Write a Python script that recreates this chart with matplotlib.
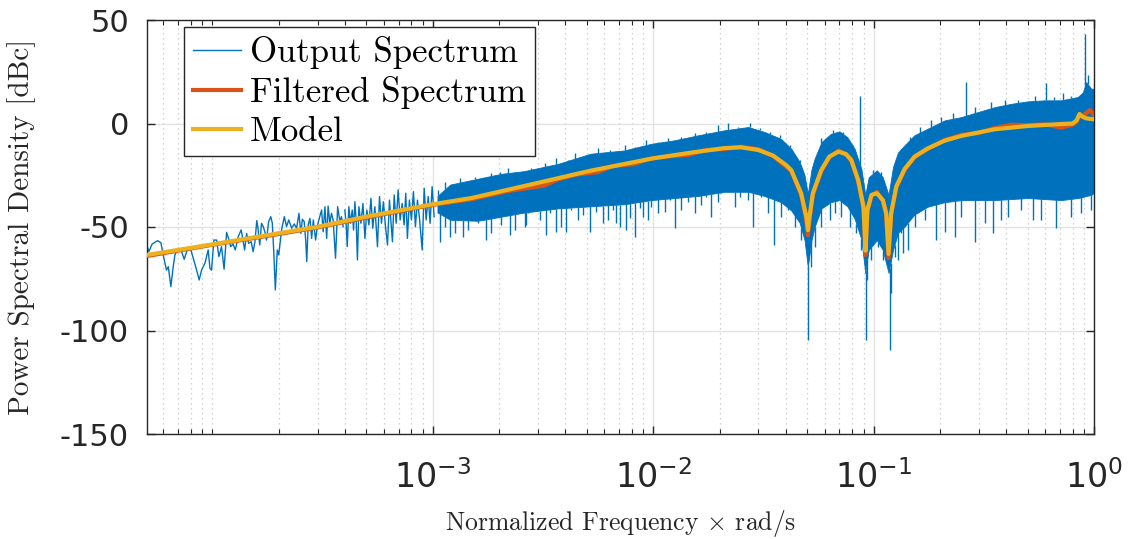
import numpy as np
import matplotlib.pyplot as plt
from matplotlib.lines import Line2D
from matplotlib.ticker import LogLocator, NullFormatter

# Colores por defecto de MATLAB
c_azul = '#0072BD'
c_rojo = '#D95319'
c_amarillo = '#EDB120'

# Espectro de salida: tramo disperso en baja frecuencia
low_f = [5.05e-5, 5.15e-5, 5.33e-5, 5.64e-5, 5.84e-5, 5.98e-5, 6.19e-5, 6.31e-5, 6.48e-5, 6.64e-5,
         6.76e-5, 7.00e-5, 7.19e-5, 7.45e-5, 7.64e-5, 7.91e-5, 8.19e-5, 8.48e-5, 8.71e-5, 8.93e-5,
         9.25e-5, 9.57e-5, 9.75e-5, 9.91e-5, 1.016e-4, 1.045e-4, 1.07e-4, 1.10e-4, 1.13e-4, 1.16e-4,
         1.19e-4, 1.21e-4, 1.24e-4, 1.27e-4, 1.31e-4, 1.35e-4, 1.36e-4, 1.40e-4, 1.43e-4, 1.46e-4,
         1.50e-4, 1.53e-4, 1.56e-4, 1.59e-4, 1.61e-4, 1.64e-4, 1.67e-4, 1.70e-4, 1.73e-4, 1.76e-4,
         1.80e-4, 1.84e-4, 1.87e-4, 1.90e-4, 1.93e-4, 1.97e-4, 2.00e-4, 2.06e-4, 2.12e-4, 2.17e-4,
         2.22e-4, 2.29e-4, 2.35e-4, 2.41e-4, 2.47e-4, 2.52e-4, 2.56e-4, 2.61e-4, 2.65e-4, 2.68e-4,
         2.72e-4, 2.77e-4, 2.82e-4, 2.87e-4, 2.94e-4, 3.00e-4, 3.07e-4, 3.13e-4, 3.18e-4, 3.24e-4,
         3.30e-4, 3.35e-4, 3.41e-4, 3.47e-4, 3.53e-4, 3.62e-4, 3.70e-4, 3.79e-4, 3.85e-4, 3.92e-4]
low_db = [-59.2, -61.9, -58.2, -56.6, -57.6, -63.5, -70.8, -69.2, -78.8, -69.2,
          -63.5, -60.3, -60.8, -65.6, -61.9, -59.5, -65.1, -70.8, -75.6, -70.8,
          -67.5, -61.1, -70.0, -70.8, -56.3, -56.3, -64.3, -59.5, -70.4, -52.6,
          -56.3, -59.5, -58.2, -61.1, -54.7, -51.4, -53.1, -61.1, -53.1, -57.9,
          -57.1, -61.9, -57.1, -46.9, -50.6, -58.7, -48.2, -49.8, -52.3, -56.3,
          -47.4, -45.0, -48.2, -62.7, -80.4, -61.1, -63.5, -51.4, -45.0, -49.8,
          -46.6, -50.6, -48.5, -50.6, -43.4, -53.1, -46.3, -47.4, -56.3, -66.7,
          -49.0, -45.8, -55.5, -46.6, -56.3, -49.0, -45.0, -41.8, -52.3, -40.2,
          -55.5, -39.9, -48.2, -43.4, -46.6, -65.1, -40.2, -47.4, -45.0, -49.8]

# Tramo intermedio (ya más denso)
mid_f = [3.99e-4, 4.05e-4, 4.09e-4, 4.16e-4, 4.23e-4, 4.31e-4, 4.37e-4, 4.43e-4, 4.49e-4, 4.55e-4,
         4.62e-4, 4.72e-4, 4.82e-4, 4.92e-4, 5.02e-4, 5.13e-4, 5.24e-4, 5.34e-4, 5.46e-4, 5.61e-4,
         5.73e-4, 5.85e-4, 5.97e-4, 6.10e-4, 6.23e-4, 6.36e-4, 6.45e-4, 6.56e-4, 6.68e-4, 6.82e-4,
         6.96e-4, 7.11e-4, 7.26e-4, 7.41e-4, 7.54e-4, 7.67e-4, 7.83e-4, 8.00e-4, 8.17e-4, 8.34e-4,
         8.52e-4, 8.70e-4, 8.95e-4, 9.14e-4, 9.33e-4, 9.53e-4, 9.72e-4, 9.93e-4, 1.014e-3]
mid_db = [-41.8, -49.8, -59.5, -40.2, -48.2, -41.8, -51.5, -37.8, -46.6, -65.9,
          -40.2, -48.2, -38.6, -55.5, -41.8, -49.0, -36.2, -50.6, -40.2, -59.5,
          -35.3, -48.2, -37.8, -49.8, -58.7, -37.0, -46.6, -57.1, -34.5, -48.2,
          -32.1, -46.6, -38.6, -49.0, -33.7, -55.5, -37.0, -46.6, -32.9, -49.8,
          -37.0, -45.8, -61.1, -31.3, -46.6, -35.3, -48.2, -30.5, -45.0]

# Zona densa: núcleo sólido del espectro
band_f = [1.05e-3, 1.2e-3, 1.6e-3, 2.05e-3, 2.6e-3, 3.7e-3, 5.2e-3, 7.4e-3, 9.8e-3, 1.25e-2,
          1.6e-2, 2.1e-2, 2.7e-2, 3.2e-2, 3.8e-2, 4.23e-2, 4.62e-2, 4.86e-2, 5.03e-2, 5.23e-2,
          5.4e-2, 5.8e-2, 6.4e-2, 7.0e-2, 7.6e-2, 8.2e-2, 8.8e-2, 9.17e-2, 9.5e-2, 0.1035,
          0.110, 0.1169, 0.1225, 0.129, 0.138, 0.153, 0.176, 0.21, 0.25, 0.297,
          0.354, 0.421, 0.501, 0.596, 0.71, 0.844, 0.89, 0.922, 0.971, 1.0]
band_hi = [-35.0, -29.5, -26.7, -24.3, -23.0, -19.5, -14.6, -13.0, -9.8, -8.1,
           -5.7, -3.3, -1.7, -4.1, -7.4, -12.2, -18.6, -24.9, -34.0, -22.0,
           -17.0, -9.0, -5.0, -3.8, -6.6, -12.2, -21.9, -34.5, -26.0, -22.6,
           -25.9, -34.5, -21.0, -14.0, -10.6, -5.7, -2.5, 1.5, 3.1, 5.5,
           7.9, 9.5, 10.7, 11.2, 11.2, 12.8, 15.0, 20.0, 16.8, 16.8]
band_lo = [-43.0, -46.5, -47.0, -45.0, -43.0, -41.0, -40.0, -39.0, -37.0, -36.0,
           -35.0, -33.0, -33.0, -35.0, -38.0, -42.0, -48.0, -56.3, -69.2, -56.3,
           -49.9, -41.0, -38.0, -37.0, -40.0, -46.0, -56.0, -72.2, -61.1, -56.3,
           -61.1, -72.2, -61.1, -52.9, -49.9, -44.0, -40.2, -38.0, -37.0, -37.0,
           -37.0, -36.5, -36.0, -36.5, -37.0, -36.0, -35.5, -35.0, -34.5, -33.5]

# Picos hacia abajo que salen del núcleo
down_f = [1.075e-3, 1.194e-3, 1.372e-3, 1.751e-3, 2.234e-3, 2.614e-3, 3.278e-3, 3.639e-3, 4.040e-3, 5.152e-3,
          5.92e-3, 7.05e-3, 7.56e-3, 8.24e-3, 8.99e-3, 1.051e-2, 1.252e-2, 1.543e-2, 1.836e-2, 2.343e-2,
          2.826e-2, 3.530e-2, 5.035e-2, 5.22e-2, 9.20e-2, 9.36e-2, 0.1182, 0.1194, 0.1289, 0.1430,
          0.1925, 0.2330, 0.2871, 0.3475, 0.3794, 0.5261, 0.6740, 0.8747,
          1.134e-3, 1.259e-3, 1.446e-3, 1.605e-3, 1.845e-3, 2.048e-3, 2.354e-3, 2.659e-3,
          2.706e-3, 2.901e-3, 3.057e-3, 3.394e-3, 3.833e-3, 4.254e-3, 4.561e-3, 4.805e-3,
          5.524e-3, 6.240e-3, 6.574e-3, 6.807e-3, 7.822e-3, 8.684e-3, 9.474e-3, 9.81e-3,
          1.127e-2, 1.188e-2, 1.342e-2, 1.438e-2, 1.653e-2, 1.742e-2, 1.968e-2,
          2.038e-2, 2.222e-2, 2.467e-2, 2.692e-2, 3.094e-2, 3.317e-2, 3.813e-2, 4.088e-2,
          4.382e-2, 4.696e-2, 5.400e-2, 5.79e-2, 6.32e-2, 6.65e-2, 7.13e-2, 7.78e-2,
          8.34e-2, 8.79e-2, 9.76e-2, 0.1046, 0.1102, 0.1245, 0.1335,
          0.1358, 0.1534, 0.1703, 0.2099, 0.2498, 0.3187, 0.4066, 0.4673, 0.5759, 0.7879, 0.9707]
down_db = [-57.1, -54.7, -54.7, -56.3, -53.9, -49.9, -53.9, -52.3, -52.3, -52.3,
           -48.2, -49.9, -51.4, -54.7, -45.0, -43.4, -50.6, -43.4, -45.0, -40.2,
           -50.0, -58.7, -104.6, -69.2, -104.6, -75.6, -109.4, -81.9, -65.9, -61.1,
           -56.3, -54.7, -57.1, -53.0, -46.6, -46.6, -50.6, -43.2,
           -49.8, -53.1, -51.5, -48.2, -53.1, -49.0, -51.5, -49.0,
           -43.4, -40.2, -46.6, -43.4, -49.8, -41.8, -46.6, -44.2,
           -42.6, -46.6, -41.8, -48.2, -45.8, -41.0, -46.6, -40.2,
           -42.6, -37.0, -41.8, -37.8, -39.4, -35.4, -37.8,
           -33.7, -30.5, -35.3, -37.0, -35.3, -43.4, -45.0, -41.8,
           -49.8, -56.3, -59.5, -49.8, -46.6, -43.4, -45.0, -49.8,
           -53.1, -61.1, -65.9, -59.5, -65.9, -64.3, -53.1,
           -62.7, -49.8, -46.6, -52.3, -45.0, -48.2, -45.0, -41.8, -46.6, -45.0, -41.8]

# Picos hacia arriba
up_f = [8.70e-2, 0.2614, 0.607, 0.720, 0.9056, 0.9344,
        1.057e-3, 1.134e-3, 1.237e-3, 1.326e-3, 1.446e-3, 1.550e-3, 1.692e-3, 1.845e-3, 2.013e-3,
        2.196e-3, 2.395e-3, 2.778e-3, 3.220e-3, 3.637e-3, 4.108e-3, 4.403e-3, 4.974e-3, 5.622e-3,
        6.350e-3, 7.428e-3, 8.24e-3, 9.31e-3, 1.051e-2, 1.167e-2, 1.342e-2, 1.542e-2, 1.742e-2,
        1.968e-2, 2.185e-2, 2.425e-2, 2.739e-2, 3.041e-2, 3.375e-2, 3.747e-2, 4.159e-2, 4.617e-2,
        5.79e-2, 6.54e-2, 7.26e-2, 8.06e-2, 9.93e-2, 0.1083, 0.1312,
        0.1335, 0.1456, 0.1616, 0.1826, 0.2026, 0.2289, 0.2871, 0.3417, 0.3926, 0.4512,
        0.5372, 0.6617, 0.7879]
up_db = [13.3, 20.2, 19.4, 14.7, 43.2, 23.4,
         -32.1, -28.1, -29.7, -26.5, -28.1, -25.7, -27.3, -24.1, -23.3,
         -21.7, -23.3, -21.7, -19.2, -16.8, -17.6, -14.4, -15.2, -12.0,
         -12.8, -10.4, -11.2, -8.0, -8.8, -7.2, -6.4, -4.8, -4.0,
         -0.7, 0.1, -1.5, 0.1, -2.3, -3.9, -5.6, -10.4, -17.6,
         -7.2, -3.1, -4.0, -10.4, -22.5, -23.3, -16.0,
         -14.4, -6.4, -1.5, 1.7, 3.3, 4.9, 8.1, 10.5, 11.4, 11.4,
         13.3, 12.6, 13.3]

# Espectro filtrado
filt_f = [5.05e-5, 1e-4, 2e-4, 3e-4, 5e-4, 1e-3, 1.5e-3, 2.2e-3, 3.2e-3, 3.7e-3,
          4.5e-3, 5.6e-3, 6.5e-3, 8.2e-3, 9.5e-3, 1.2e-2, 1.44e-2, 1.7e-2, 2.1e-2, 2.5e-2,
          3.0e-2, 3.5e-2, 4.0e-2, 4.23e-2, 4.69e-2, 4.95e-2, 5.035e-2, 5.12e-2, 5.30e-2, 5.79e-2,
          6.3e-2, 6.93e-2, 7.5e-2, 7.92e-2, 8.51e-2, 9.0e-2, 9.19e-2, 9.37e-2, 9.78e-2, 0.1035,
          0.1102, 0.1141, 0.1169, 0.1201, 0.1267, 0.1382, 0.1534, 0.1763, 0.21, 0.25,
          0.30, 0.354, 0.42, 0.5, 0.6, 0.71, 0.80, 0.834, 0.859, 0.89,
          0.922, 0.96, 1.0]
filt_db = [-64.0, -58.6, -53.4, -50.2, -45.4, -39.3, -36.6, -32.6, -30.0, -27.0,
           -24.6, -23.5, -20.6, -19.6, -17.2, -15.8, -15.2, -13.0, -12.3, -11.2,
           -12.4, -15.8, -20.8, -23.0, -34.5, -46.5, -54.0, -46.5, -34.5, -23.0,
           -16.4, -13.0, -15.0, -18.0, -27.8, -41.0, -63.5, -42.5, -35.0, -33.0,
           -37.5, -44.0, -65.0, -44.0, -31.0, -22.5, -16.3, -12.3, -8.0, -5.5,
           -4.6, -2.2, -0.6, -0.8, -0.4, -2.0, -0.6, 0.8, 4.0, 3.5,
           5.0, 6.5, 4.0]

# Modelo
model_f = [5.05e-5, 1e-4, 2e-4, 3e-4, 5e-4, 1e-3, 1.5e-3, 2.6e-3, 5.2e-3, 1e-2,
           1.5e-2, 2.1e-2, 2.5e-2, 3.0e-2, 3.5e-2, 4.0e-2, 4.23e-2, 4.69e-2, 4.95e-2, 5.035e-2,
           5.12e-2, 5.30e-2, 5.79e-2, 6.3e-2, 6.93e-2, 7.5e-2, 7.92e-2, 8.51e-2, 9.0e-2, 9.19e-2,
           9.37e-2, 9.78e-2, 0.1035, 0.1102, 0.1141, 0.1169, 0.1201, 0.1267, 0.1382, 0.1534,
           0.1763, 0.21, 0.25, 0.354, 0.5, 0.71, 0.80, 0.834, 0.859, 0.89,
           0.922, 1.0]
model_db = [-63.5, -58.4, -53.0, -49.9, -45.0, -39.0, -36.0, -30.2, -22.8, -16.8,
            -14.0, -11.9, -11.5, -12.8, -15.5, -20.0, -22.5, -33.7, -45.0, -51.5,
            -45.0, -33.7, -22.5, -16.0, -13.6, -14.8, -17.6, -27.3, -40.2, -61.4,
            -41.8, -34.5, -33.7, -37.0, -43.4, -63.0, -43.4, -30.5, -22.0, -16.0,
            -12.0, -8.3, -6.0, -2.8, -1.2, -0.25, 0.0, 1.5, 4.6, 3.2,
            2.5, 2.0]

xticks = [1e-3, 1e-2, 1e-1, 1e0]
xtick_labels = [r'$\mathdefault{10^{-3}}$', r'$\mathdefault{10^{-2}}$',
                r'$\mathdefault{10^{-1}}$', r'$\mathdefault{10^{0}}$']
yticks = [-150, -100, -50, 0, 50]

plt.rcParams['axes.unicode_minus'] = False
plt.rcParams['mathtext.fontset'] = 'cm'
plt.rcParams['font.family'] = 'DejaVu Sans'

fig = plt.figure(figsize=(11.31, 5.39), dpi=100)
ax = fig.add_axes([147 / 1131, 1 - 434 / 539, 947 / 1131, 414 / 539])

# Espectro de salida
ax.fill_between(band_f, band_lo, band_hi, color=c_azul, lw=0.6, zorder=2)
ax.plot(low_f, low_db, color=c_azul, lw=1.0, zorder=2)
ax.plot(mid_f, mid_db, color=c_azul, lw=1.0, zorder=2)
logb = np.log10(band_f)
base_lo = np.interp(np.log10(down_f), logb, band_lo)
base_hi = np.interp(np.log10(up_f), logb, band_hi)
ax.vlines(down_f, down_db, base_lo, color=c_azul, lw=1.0, zorder=2)
ax.vlines(up_f, base_hi, up_db, color=c_azul, lw=1.0, zorder=2)

# Espectro filtrado y modelo
ax.plot(filt_f, filt_db, color=c_rojo, lw=3.0, zorder=3)
ax.plot(model_f, model_db, color=c_amarillo, lw=3.0, zorder=4)

ax.set_xscale('log')
ax.set_xlim(5.05e-5, 1.0)
ax.set_ylim(-150, 50)
ax.set_xticks(xticks)
ax.set_xticklabels(xtick_labels)
ax.xaxis.set_minor_locator(LogLocator(base=10, subs=np.arange(1, 10), numticks=50))
ax.xaxis.set_minor_formatter(NullFormatter())
ax.set_yticks(yticks)
ax.set_yticklabels([str(v) for v in yticks])

ax.set_axisbelow(True)
ax.grid(which='major', color='#e3e3e3', lw=1.0, ls='-')
ax.grid(which='minor', axis='x', color='#c4c4c4', lw=0.9, ls=(0, (1, 3)))

for s in ax.spines.values():
    s.set_color('#262626')
    s.set_linewidth(1.0)
ax.tick_params(which='both', direction='in', top=True, right=True, color='#262626',
               labelcolor='#262626', labelsize=22)
ax.tick_params(which='major', length=6, width=1.0)
ax.tick_params(which='minor', length=3.5, width=0.8)
ax.tick_params(axis='y', pad=13)
ax.tick_params(axis='x', pad=19, labelsize=24)

ax.set_ylabel('Power Spectral Density [dBc]', fontfamily='cmr10', fontsize=21, color='#262626')
ax.yaxis.set_label_coords(-0.117, 0.5)
ax.set_xlabel(r'Normalized Frequency $\times$ rad/s', fontfamily='cmr10', fontsize=18.5,
              color='#262626', va='baseline')
ax.xaxis.set_label_coords(0.5, -0.232)

handles = [Line2D([], [], color=c_azul, lw=1.0),
           Line2D([], [], color=c_rojo, lw=3.0),
           Line2D([], [], color=c_amarillo, lw=3.0)]
labels = ['Output Spectrum', 'Filtered Spectrum', 'Model']
leg = ax.legend(handles, labels, loc='upper left', bbox_to_anchor=(0.039, 0.982),
                borderaxespad=0, prop={'family': 'cmr10', 'size': 25},
                fancybox=False, framealpha=1, edgecolor='#262626',
                handlelength=1.4, handletextpad=0.25, labelspacing=0.2, borderpad=0.25)
leg.get_frame().set_linewidth(1.0)

fig.savefig('out.png', dpi=100)
